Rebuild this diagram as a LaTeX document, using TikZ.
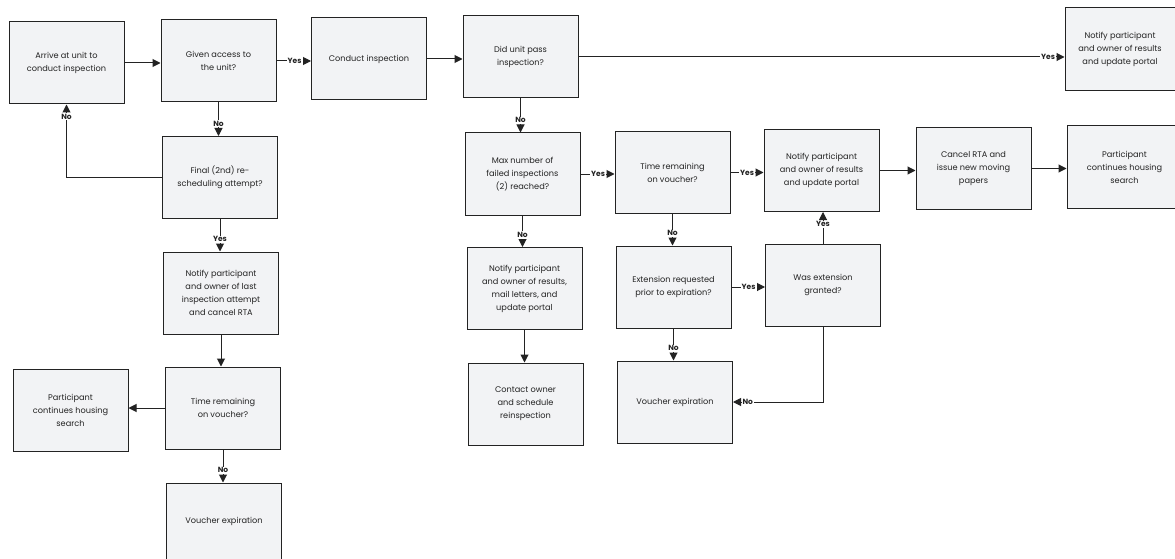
\documentclass[tikz,border=0pt]{standalone}
\usepackage{fontspec}
\setmainfont{Poppins}
\usetikzlibrary{arrows.meta}
\definecolor{boxfill}{RGB}{242,243,245}
\definecolor{ink}{RGB}{35,35,35}
\begin{document}
\begin{tikzpicture}[x=1pt,y=-1pt,
  box/.style={draw=ink, line width=1pt, fill=boxfill, minimum width=115pt,
    minimum height=82pt, align=center, text=ink,
    font=\fontsize{8.2}{13}\selectfont, inner sep=2pt},
  arr/.style={draw=ink, line width=1pt, -{Triangle[length=8pt,width=8pt]}},
  lbl/.style={fill=white, inner sep=1pt, text=ink, font=\bfseries\fontsize{7.5}{8}\selectfont}]
\useasboundingbox (0,0) rectangle (1175,559);
\fill[white] (0,0) rectangle (1175,559);

% boxes
\node[box] (A) at (66.5,63) {Arrive at unit to\\conduct inspection};
\node[box] (B) at (218.5,61) {Given access to\\the unit?};
\node[box] (C) at (369,59) {Conduct inspection};
\node[box] (D) at (520.5,57) {Did unit pass\\inspection?};
\node[box, minimum width=110pt, minimum height=83pt] (E) at (1120,49.5) {Notify participant\\and owner of results\\and update portal};
\node[box] (F) at (220,177.5) {Final (2nd) re-\\scheduling attempt?};
\node[box] (G) at (522.5,174) {Max number of\\failed inspections\\(2) reached?};
\node[box] (H) at (672.5,172.5) {Time remaining\\on voucher?};
\node[box] (I) at (821.5,170.5) {Notify participant\\and owner of results\\and update portal};
\node[box] (J) at (973.5,168.5) {Cancel RTA and\\issue new moving\\papers};
\node[box] (K) at (1124.5,167) {Participant\\continues housing\\search};
\node[box] (L) at (221,293) {Notify participant\\and owner of last\\inspection attempt\\and cancel RTA};
\node[box] (M) at (524.5,288.5) {Notify participant\\and owner of results,\\mail letters, and\\update portal};
\node[box] (N) at (673.5,287) {Extension requested\\prior to expiration?};
\node[box] (O) at (823,285) {Was extension\\granted?};
\node[box] (P) at (70.5,410.5) {Participant\\continues housing\\search};
\node[box] (Q) at (223,408) {Time remaining\\on voucher?};
\node[box] (R) at (525.5,404) {Contact owner\\and schedule\\reinspection};
\node[box] (S) at (675,402) {Voucher expiration};
\node[box] (T) at (224,524) {\raisebox{7pt}{Voucher expiration}};

% connectors
\draw[arr] (A.east) -- (A.east -| B.west);
\draw[arr] (B.east) -- (B.east -| C.west) node[lbl, pos=1, anchor=east, xshift=-8pt] {Yes};
\draw[arr] (C.east) -- (C.east -| D.west);
\draw[arr] (D.east) -- (D.east -| E.west) node[lbl, pos=1, anchor=east, xshift=-8pt] {Yes};
\draw[arr] (B.south) -- (B.south |- F.north) node[lbl, pos=1, anchor=south, yshift=8pt] {No};
\draw[arr] (F.west) -| (A.south) node[lbl, pos=1, anchor=north, yshift=-8pt] {No};
\draw[arr] (F.south) -- (F.south |- L.north) node[lbl, pos=1, anchor=south, yshift=8pt] {Yes};
\draw[arr] (L.south) -- (L.south |- Q.north);
\draw[arr] (Q.west) -- (Q.west -| P.east);
\draw[arr] (Q.south) -- (Q.south |- T.north) node[lbl, pos=1, anchor=south, yshift=8pt] {No};
\draw[arr] (D.south) -- (D.south |- G.north) node[lbl, pos=1, anchor=south, yshift=8pt] {No};
\draw[arr] (G.east) -- (G.east -| H.west) node[lbl, pos=1, anchor=east, xshift=-8pt] {Yes};
\draw[arr] (H.east) -- (H.east -| I.west) node[lbl, pos=1, anchor=east, xshift=-8pt] {Yes};
\draw[arr] (I.east) -- (I.east -| J.west);
\draw[arr] (J.east) -- (J.east -| K.west);
\draw[arr] (G.south) -- (G.south |- M.north) node[lbl, pos=1, anchor=south, yshift=8pt] {No};
\draw[arr] (M.south) -- (M.south |- R.north);
\draw[arr] (H.south) -- (H.south |- N.north) node[lbl, pos=1, anchor=south, yshift=8pt] {No};
\draw[arr] (N.east) -- (N.east -| O.west) node[lbl, pos=1, anchor=east, xshift=-8pt] {Yes};
\draw[arr] (O.north) -- (O.north |- I.south) node[lbl, pos=1, anchor=north, yshift=-8pt] {Yes};
\draw[arr] (N.south) -- (N.south |- S.north) node[lbl, pos=1, anchor=south, yshift=8pt] {No};
\draw[arr] (O.south) |- (S.east) node[lbl, pos=1, anchor=west, xshift=8pt] {No};
\end{tikzpicture}
\end{document}
